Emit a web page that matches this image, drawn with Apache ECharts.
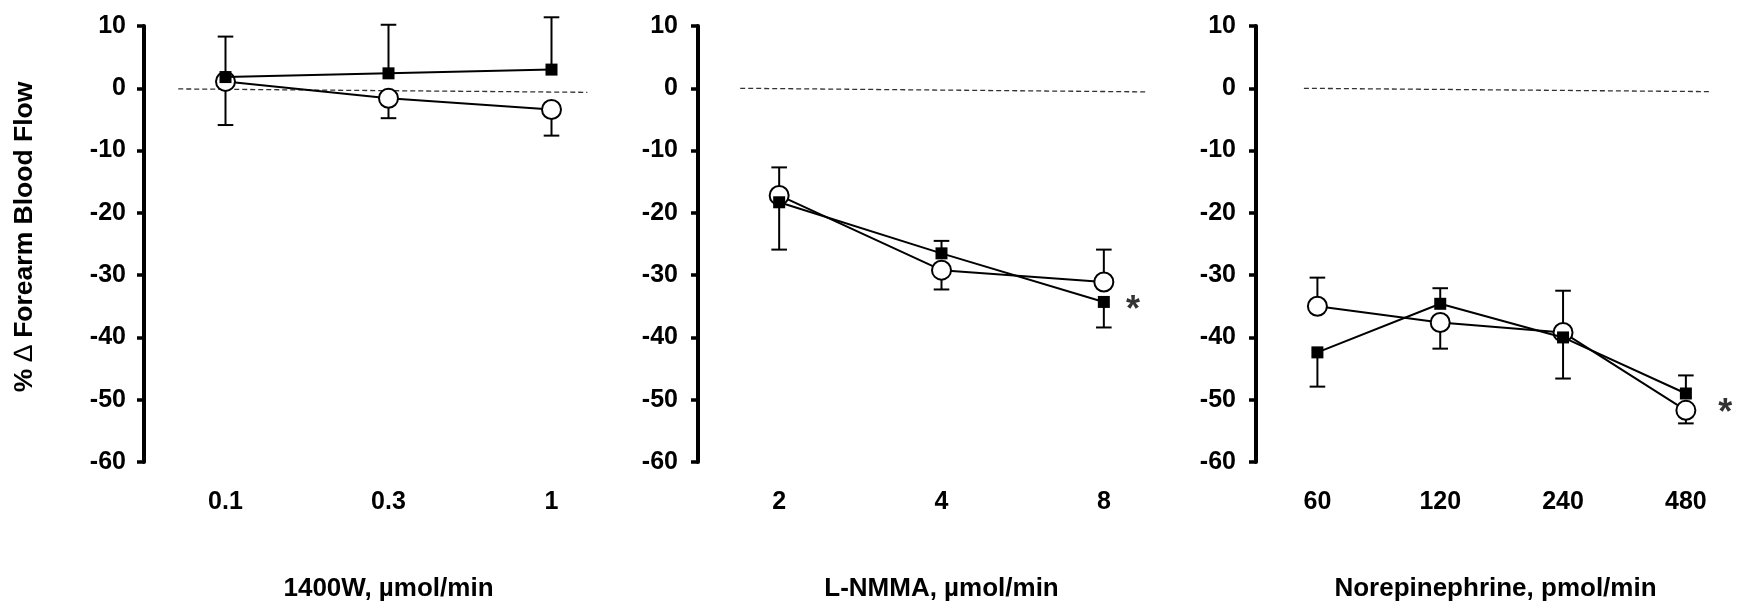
<!DOCTYPE html>
<html>
<head>
<meta charset="utf-8">
<script src="https://cdn.jsdelivr.net/npm/echarts@6/dist/echarts.min.js"></script>
<style>
html,body{margin:0;padding:0;background:#fff;}
#chart{width:1738px;height:607px;}
</style>
</head>
<body>
<div id="chart"></div>
<script>
// ---- Data ----
const yTicks = [-60, -50, -40, -30, -20, -10, 0, 10];

// Panel 1: 1400W
const cats1400W = ['0.1', '0.3', '1'];
const sq1400W = [1.8, 2.4, 3.0];
const sq1400WErr = [8.3, 10.2, 11.4];
const ci1400W = [1.1, -1.6, -3.4];
const ci1400WErr = [-5.9, -4.8, -7.6];
const ref1400W = [[-0.29, -0.1], [2.22, -0.65]];

// Panel 2: L-NMMA
const catsNMMA = ['2', '4', '8'];
const sqNMMA = [-18.3, -26.5, -34.3];
const sqNMMAErr = [-25.9, -24.5, -38.4];
const ciNMMA = [-17.2, -29.2, -31.1];
const ciNMMAErr = [-12.7, -32.3, -25.9];
const refNMMA = [[-0.24, 0], [2.27, -0.58]];
const starNMMA = [2.18, -34.6];

// Panel 3: Norepinephrine
const catsNE = ['60', '120', '240', '480'];
const sqNE = [-42.4, -34.6, -40.0, -49.0];
const sqNEErr = [-47.9, -32.1, -46.6, -46.1];
const ciNE = [-35.0, -37.6, -39.2, -51.7];
const ciNEErr = [-30.4, -41.8, -32.5, -53.8];
const refNE = [[-0.11, 0], [3.21, -0.54]];
const starNE = [3.32, -51.2];

const titles = ['1400W, \u00b5mol/min', 'L-NMMA, \u00b5mol/min', 'Norepinephrine, pmol/min'];

// ---- Build options ----
const FONT = "'Liberation Sans', Arial, sans-serif";
const panels = [
  {cats: cats1400W, sq: sq1400W, sqErr: sq1400WErr, ci: ci1400W, ciErr: ci1400WErr, ref: ref1400W, star: null,
   grid: {left: 144, top: 26, width: 489, height: 437}, xmax: 2.5, labelMargin: 18},
  {cats: catsNMMA, sq: sqNMMA, sqErr: sqNMMAErr, ci: ciNMMA, ciErr: ciNMMAErr, ref: refNMMA, star: starNMMA,
   grid: {left: 698, top: 26, width: 487, height: 437}, xmax: 2.5, labelMargin: 20},
  {cats: catsNE, sq: sqNE, sqErr: sqNEErr, ci: ciNE, ciErr: ciNEErr, ref: refNE, star: starNE,
   grid: {left: 1256, top: 26, width: 479, height: 437}, xmax: 3.4, labelMargin: 20}
];

const grids = [], xAxes = [], yAxes = [], series = [];

function errRender(params, api) {
  const p = api.coord([api.value(0), api.value(1)]);
  const e = api.coord([api.value(0), api.value(2)]);
  const half = 7.8;
  return {
    type: 'group',
    children: [
      {type: 'line', shape: {x1: p[0], y1: p[1], x2: e[0], y2: e[1]}, style: {stroke: '#000', lineWidth: 2}},
      {type: 'line', shape: {x1: e[0] - half, y1: e[1], x2: e[0] + half, y2: e[1]}, style: {stroke: '#000', lineWidth: 2}}
    ]
  };
}

panels.forEach((pn, k) => {
  grids.push(pn.grid);
  const idx = pn.cats.map((c, i) => i);
  xAxes.push({
    type: 'value', gridIndex: k, min: -0.5, max: pn.xmax,
    name: titles[k], nameLocation: 'middle', nameGap: 114,
    nameTextStyle: {fontFamily: FONT, fontWeight: 'bold', fontSize: 26, color: '#000'},
    axisLine: {show: false, onZero: false}, axisTick: {show: false}, splitLine: {show: false},
    axisLabel: {
      customValues: idx, margin: 28,
      formatter: v => pn.cats[Math.round(v)],
      fontFamily: FONT, fontWeight: 'bold', fontSize: 25, color: '#000'
    }
  });
  const y = {
    type: 'value', gridIndex: k, min: -60, max: 10, interval: 10,
    axisLine: {show: true, onZero: false, lineStyle: {color: '#000', width: 4}},
    axisTick: {show: true, length: 7, lineStyle: {color: '#000', width: 3.5}},
    splitLine: {show: false},
    axisLabel: {margin: pn.labelMargin, fontFamily: FONT, fontWeight: 'bold', fontSize: 25, color: '#000'}
  };
  if (k === 0) {
    y.name = '% {d|\u2206} Forearm Blood Flow';
    y.nameLocation = 'middle';
    y.nameRotate = 90;
    y.nameGap = 106;
    y.nameTextStyle = {fontFamily: FONT, fontWeight: 'bold', fontSize: 26.5, color: '#000',
      padding: [0, 0, 0, 14],
      rich: {d: {fontFamily: FONT, fontWeight: 'normal', fontSize: 26.5, color: '#000'}}};
  }
  yAxes.push(y);

  // dashed zero reference line
  series.push({
    type: 'line', xAxisIndex: k, yAxisIndex: k, data: pn.ref, symbol: 'none', silent: true, z: 1,
    lineStyle: {color: '#333', width: 1.3, type: [5, 3]}
  });
  // error bars
  series.push({
    type: 'custom', xAxisIndex: k, yAxisIndex: k, renderItem: errRender, z: 2,
    data: idx.map(i => [i, pn.ci[i], pn.ciErr[i]])
  });
  series.push({
    type: 'custom', xAxisIndex: k, yAxisIndex: k, renderItem: errRender, z: 2,
    data: idx.map(i => [i, pn.sq[i], pn.sqErr[i]])
  });
  // open circles
  series.push({
    type: 'line', xAxisIndex: k, yAxisIndex: k, z: 3,
    data: idx.map(i => [i, pn.ci[i]]),
    symbol: 'circle', symbolSize: 19, showAllSymbol: true,
    lineStyle: {color: '#000', width: 2},
    itemStyle: {color: '#fff', borderColor: '#000', borderWidth: 2}
  });
  // filled squares
  series.push({
    type: 'line', xAxisIndex: k, yAxisIndex: k, z: 4,
    data: idx.map(i => [i, pn.sq[i]]),
    symbol: 'rect', symbolSize: 12, showAllSymbol: true,
    lineStyle: {color: '#000', width: 2},
    itemStyle: {color: '#000'}
  });
  if (pn.star) {
    series.push({
      type: 'scatter', xAxisIndex: k, yAxisIndex: k, z: 5, silent: true,
      data: [pn.star], symbolSize: 0,
      label: {show: true, position: 'inside', formatter: '*', offset: [0, 7],
        fontFamily: FONT, fontWeight: 'bold', fontSize: 36, color: '#000'}
    });
  }
});

const chart = echarts.init(document.getElementById('chart'), null, {renderer: 'canvas'});
chart.setOption({
  animation: false,
  backgroundColor: '#fff',
  grid: grids, xAxis: xAxes, yAxis: yAxes, series: series
});
</script>
</body>
</html>
